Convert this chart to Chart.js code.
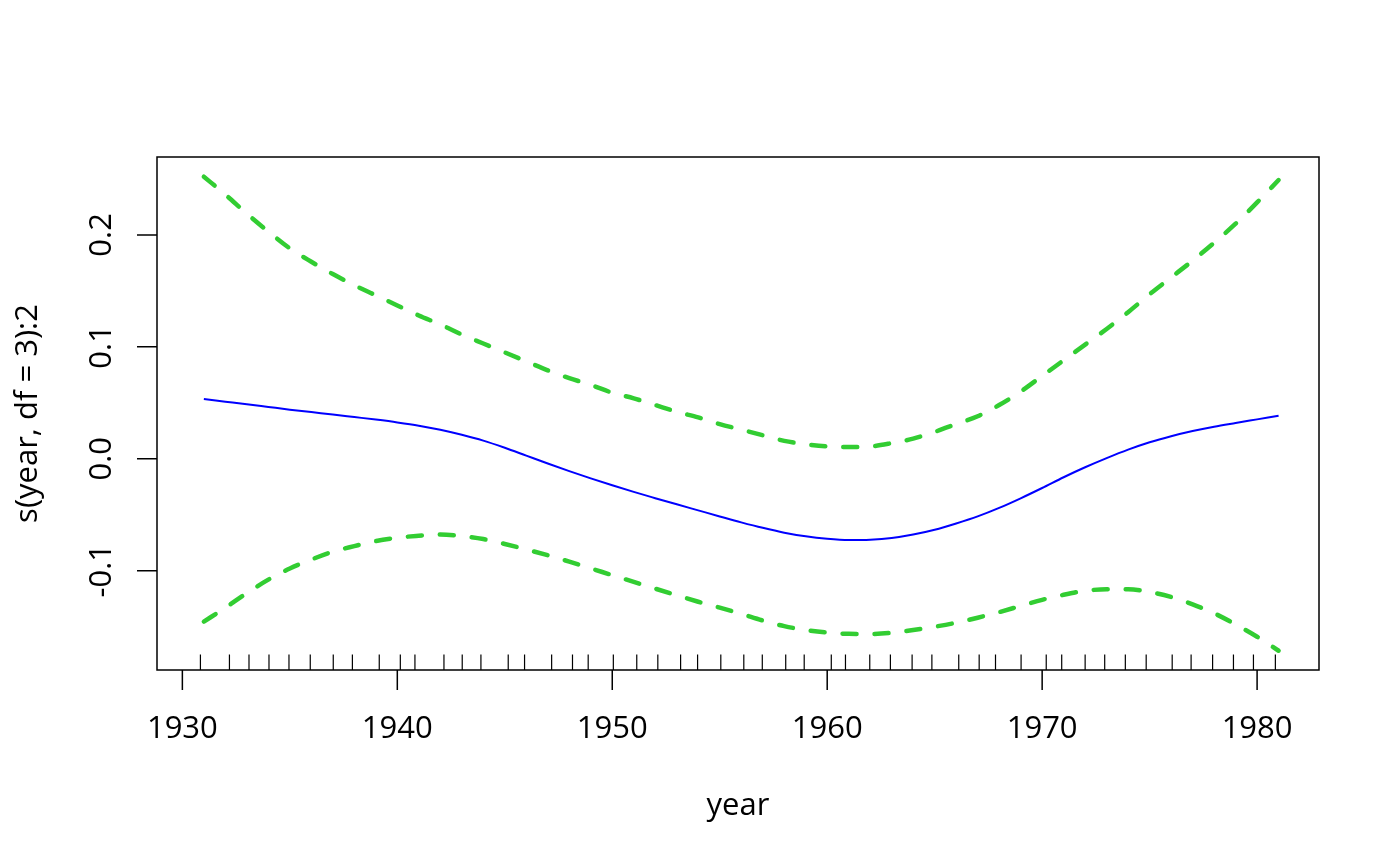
<!DOCTYPE html>
<html>
<head>
<meta charset="utf-8">
<title>s(year, df = 3):2</title>
<script src="https://cdn.jsdelivr.net/npm/chart.js@4.4.1/dist/chart.umd.min.js"></script>
<style>
  html, body { margin: 0; padding: 0; background: #fff; }
  canvas { display: block; }
</style>
</head>
<body>
<canvas id="termPlot" width="1400" height="866"></canvas>
<script>
// Years of the fitted term
const years = [
  1931, 1932, 1933, 1934, 1935, 1936, 1937, 1938, 1939, 1940,
  1941, 1942, 1943, 1944, 1945, 1946, 1947, 1948, 1949, 1950,
  1951, 1952, 1953, 1954, 1955, 1956, 1957, 1958, 1959, 1960,
  1961, 1962, 1963, 1964, 1965, 1966, 1967, 1968, 1969, 1970,
  1971, 1972, 1973, 1974, 1975, 1976, 1977, 1978, 1979, 1980, 1981
];

// Smooth term (blue)
const fit = [
  0.0533, 0.0510, 0.0487, 0.0463, 0.0439, 0.0417, 0.0396, 0.0373, 0.0350, 0.0325,
  0.0296, 0.0259, 0.0214, 0.0162, 0.0098, 0.0028, -0.0042, -0.0110, -0.0175, -0.0237,
  -0.0296, -0.0352, -0.0407, -0.0461, -0.0515, -0.0568, -0.0617, -0.0660, -0.0693, -0.0715,
  -0.0726, -0.0723, -0.0708, -0.0677, -0.0634, -0.0578, -0.0515, -0.0439, -0.0353, -0.0261,
  -0.0165, -0.0076, 0.0006, 0.0082, 0.0148, 0.0202, 0.0248, 0.0287, 0.0320, 0.0352, 0.0384
];

// Upper and lower bands (green dashed)
const upper = [
  0.252, 0.236, 0.219, 0.203, 0.188, 0.176, 0.165, 0.155, 0.146, 0.137,
  0.128, 0.120, 0.111, 0.103, 0.095, 0.087, 0.079, 0.072, 0.066, 0.059,
  0.054, 0.048, 0.042, 0.037, 0.031, 0.026, 0.021, 0.016, 0.013, 0.011,
  0.0105, 0.011, 0.014, 0.018, 0.024, 0.031, 0.038, 0.048, 0.060, 0.074,
  0.088, 0.102, 0.116, 0.131, 0.147, 0.162, 0.177, 0.193, 0.210, 0.229, 0.249
];
const lower = [
  -0.1455, -0.133, -0.120, -0.108, -0.098, -0.090, -0.083, -0.078, -0.0735, -0.0705,
  -0.0688, -0.0676, -0.0690, -0.0717, -0.0761, -0.0810, -0.0862, -0.0919, -0.0979, -0.1040,
  -0.1100, -0.1160, -0.1219, -0.1277, -0.1330, -0.1386, -0.1445, -0.1495, -0.1530, -0.1552,
  -0.1564, -0.1565, -0.1555, -0.1530, -0.150, -0.1465, -0.142, -0.137, -0.1315, -0.126,
  -0.1215, -0.118, -0.1165, -0.1165, -0.119, -0.1235, -0.130, -0.138, -0.148, -0.159, -0.1715
];

// Rug (jittered years)
const rug = [
  1930.84, 1932.19, 1933.10, 1934.03, 1934.96, 1935.95, 1937.02, 1937.91, 1939.16, 1940.14,
  1940.82, 1942.17, 1943.02, 1943.89, 1945.16, 1945.92, 1947.18, 1948.15, 1948.88, 1950.05,
  1951.14, 1952.12, 1953.18, 1953.97, 1955.05, 1956.12, 1956.98, 1958.07, 1958.93, 1960.19,
  1960.85, 1961.98, 1962.94, 1963.95, 1964.87, 1966.12, 1967.07, 1967.83, 1969.02, 1970.19,
  1970.91, 1972.00, 1972.91, 1973.87, 1974.84, 1976.05, 1976.93, 1977.93, 1978.90, 1979.83, 1980.85
];

// Axis ticks
const xTicks = [1930, 1940, 1950, 1960, 1970, 1980];
const yTicks = [-0.1, 0.0, 0.1, 0.2];
const yTickLabels = ['-0.1', '0.0', '0.1', '0.2'];

const xLabel = 'year';
const yLabel = 's(year, df = 3):2';

const FONT = '"Open Sans", "Noto Sans", sans-serif';
const toPoints = vals => years.map((y, i) => ({ x: y, y: vals[i] }));

// Base-graphics style box, axes and rug
const basePlot = {
  id: 'basePlot',
  afterDatasetsDraw(chart) {
    const { ctx, chartArea: a, scales: { x, y } } = chart;
    ctx.save();
    ctx.strokeStyle = '#000';
    ctx.fillStyle = '#000';

    // rug
    ctx.lineWidth = 1.2;
    const rugLen = (a.bottom - a.top) * 0.03;
    ctx.beginPath();
    rug.forEach(v => {
      const px = x.getPixelForValue(v);
      ctx.moveTo(px, a.bottom);
      ctx.lineTo(px, a.bottom - rugLen);
    });
    ctx.stroke();

    // box
    ctx.lineWidth = 1.5;
    ctx.strokeRect(a.left, a.top, a.right - a.left, a.bottom - a.top);

    // x axis
    ctx.beginPath();
    xTicks.forEach(v => {
      const px = x.getPixelForValue(v);
      ctx.moveTo(px, a.bottom);
      ctx.lineTo(px, a.bottom + 20);
    });
    ctx.stroke();
    ctx.font = '31px ' + FONT;
    ctx.textAlign = 'center';
    ctx.textBaseline = 'alphabetic';
    xTicks.forEach(v => ctx.fillText(String(v), x.getPixelForValue(v), a.bottom + 68));

    // y axis
    ctx.beginPath();
    yTicks.forEach(v => {
      const py = y.getPixelForValue(v);
      ctx.moveTo(a.left, py);
      ctx.lineTo(a.left - 20, py);
    });
    ctx.stroke();
    yTicks.forEach((v, i) => {
      ctx.save();
      ctx.translate(a.left - 46, y.getPixelForValue(v));
      ctx.rotate(-Math.PI / 2);
      ctx.fillText(yTickLabels[i], 0, 0);
      ctx.restore();
    });

    // axis titles
    ctx.fillText(xLabel, (a.left + a.right) / 2, a.bottom + 145);
    ctx.save();
    ctx.translate(37, (a.top + a.bottom) / 2);
    ctx.rotate(-Math.PI / 2);
    ctx.fillText(yLabel, 0, 0);
    ctx.restore();

    ctx.restore();
  }
};

const green = '#32CD32';
const bandStyle = {
  borderColor: green,
  borderWidth: 4.5,
  borderDash: [14, 18],
  borderCapStyle: 'round',
  pointRadius: 0,
  cubicInterpolationMode: 'monotone',
  fill: false
};

new Chart(document.getElementById('termPlot'), {
  type: 'line',
  data: {
    datasets: [
      { label: 'fit', data: toPoints(fit), borderColor: '#0000FF', borderWidth: 2,
        pointRadius: 0, cubicInterpolationMode: 'monotone', fill: false },
      Object.assign({ label: 'upper', data: toPoints(upper) }, bandStyle),
      Object.assign({ label: 'lower', data: toPoints(lower) }, bandStyle)
    ]
  },
  options: {
    responsive: false,
    animation: false,
    devicePixelRatio: 1,
    layout: { padding: { left: 157, top: 157, right: 81, bottom: 196 } },
    plugins: { legend: { display: false }, tooltip: { enabled: false } },
    scales: {
      x: { type: 'linear', display: false, min: 1928.82, max: 1982.88 },
      y: { type: 'linear', display: false, min: -0.1887, max: 0.2696 }
    }
  },
  plugins: [basePlot]
});
</script>
</body>
</html>
